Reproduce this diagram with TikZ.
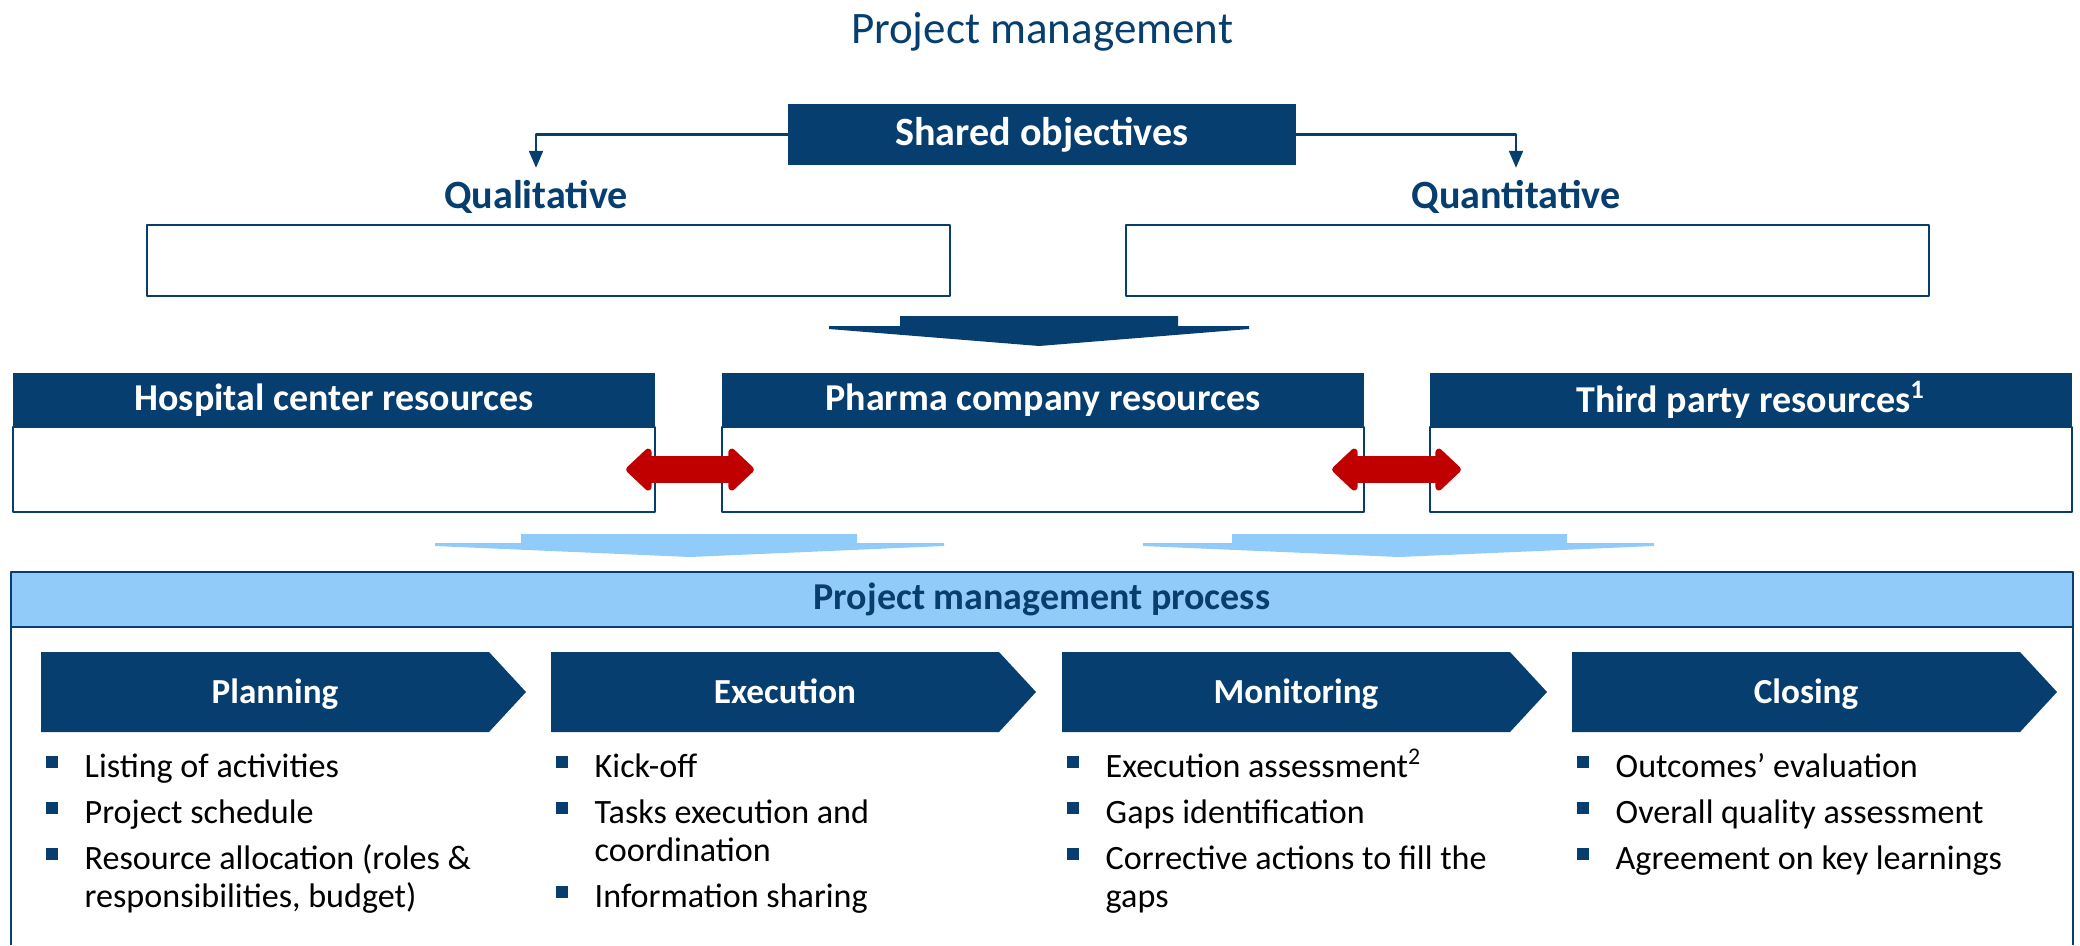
\documentclass[tikz,border=0pt]{standalone}
\usepackage{fontspec}
\setmainfont{Carlito}
\usetikzlibrary{arrows.meta,positioning}
\definecolor{pmDark}{HTML}{053E6F}
\definecolor{pmLight}{HTML}{90CBF9}
\definecolor{pmRed}{HTML}{C00000}
\newcommand{\toplines}[1]{\begin{tabular}[t]{@{}l@{}}#1\end{tabular}}
\tikzset{
  darkbox/.style={fill=pmDark, text=white, font=\fontsize{11.4}{13}\selectfont\bfseries, inner sep=0pt, outer sep=0pt},
  whitebox/.style={draw=pmDark, line width=0.6pt, fill=white, inner sep=0pt, outer sep=0pt},
  reshead/.style={darkbox, font=\fontsize{10.8}{12}\selectfont\bfseries, minimum width=6.42cm, minimum height=0.54cm},
  resbody/.style={whitebox, minimum width=6.42cm, minimum height=0.85cm},
  objlabel/.style={text=pmDark, font=\fontsize{11.4}{13}\selectfont\bfseries, inner sep=0pt, outer sep=0pt},
  objarrow/.style={pmDark, line width=0.6pt, -{Triangle[length=0.17cm, width=0.14cm]}},
  linkarrow/.style={pmRed, line width=0.27cm, {Triangle[round, length=0.27cm, width=0.49cm]}-{Triangle[round, length=0.27cm, width=0.49cm]}},
  stepfill/.style={fill=pmDark},
  steplabel/.style={text=white, font=\fontsize{10}{12}\selectfont\bfseries, inner sep=0pt},
  itemtext/.style={font=\fontsize{9.7}{10.9}\selectfont, inner sep=0pt, anchor=base west},
  itembullet/.style={fill=pmDark, minimum size=0.12cm, inner sep=0pt},
}

\begin{document}
\begin{tikzpicture}[x=0.01cm, y=-0.01cm, line join=round]
  \useasboundingbox (0,0) rectangle (2080,945);

  % Title
  \node[text=pmDark, font=\fontsize{12.8}{15}\selectfont, anchor=base] (title) at (1042,43) {Project management};

  % Shared objectives
  \node[darkbox, minimum width=5.08cm, minimum height=0.61cm] (shared) at (1042,134.5) {Shared objectives};
  \node[objlabel, anchor=base] (qual) at (536,208) {Qualitative};
  \node[objlabel, anchor=base] (quant) at (1516,208) {Quantitative};
  \draw[objarrow, shorten >=0.12cm] (shared.west) -| (qual.north);
  \draw[objarrow, shorten >=0.12cm] (shared.east) -| (quant.north);

  \node[whitebox, minimum width=8.03cm, minimum height=0.71cm] (qualbox) at (548.5,260.5) {};
  \node[whitebox, minimum width=8.03cm, minimum height=0.71cm] (quantbox) at (1527.5,260.5) {};

  % Big arrow down
  \fill[pmDark] (900,316) -- (1178,316) -- (1178,326) -- (1249,326) -- (1249,329)
    -- (1039,346) -- (829,329) -- (829,326) -- (900,326) -- cycle;

  % Resources
  \node[reshead] (hosphead) at (334,400) {Hospital center resources};
  \node[resbody, below=0pt of hosphead] (hospbody) {};
  \node[reshead] (pharmahead) at (1043,400) {Pharma company resources};
  \node[resbody, below=0pt of pharmahead] (pharmabody) {};
  \node[reshead] (thirdhead) at (1751,400) {Third party resources\textsuperscript{1}};
  \node[resbody, below=0pt of thirdhead] (thirdbody) {};

  \draw[linkarrow, shorten <=-0.29cm, shorten >=-0.32cm] (hospbody.east) -- (pharmabody.west);
  \draw[linkarrow, shorten <=-0.32cm, shorten >=-0.31cm] (pharmabody.east) -- (thirdbody.west);

  % Light arrows
  \fill[pmLight] (521,534) -- (857,534) -- (857,543) -- (944,543) -- (944,546)
    -- (690,557) -- (435,546) -- (435,543) -- (521,543) -- cycle;
  \fill[pmLight] (1232,534) -- (1567,534) -- (1567,543) -- (1654,543) -- (1654,546)
    -- (1399,557) -- (1143,546) -- (1143,543) -- (1232,543) -- cycle;

  % Process box
  \node[whitebox, fill=pmLight, text=pmDark, font=\fontsize{10.8}{12}\selectfont\bfseries,
        minimum width=20.6cm, minimum height=0.55cm] (prochead) at (1042,599.5) {Project management process};
  \draw[pmDark, line width=0.6pt] (prochead.south west) -- ++(0,318);
  \draw[pmDark, line width=0.6pt] (prochead.south east) -- ++(0,318);

  % Steps
  \foreach \x/\n/\lbl in {41/plan/Planning, 551/exec/Execution, 1062/moni/Monitoring, 1572/clos/Closing} {
    \fill[stepfill] (\x,652) -- ++(448,0) -- ++(37,40) -- ++(-37,40) -- ++(-448,0) -- cycle;
    \node[steplabel, anchor=base] (\n) at (\x+234,703) {\lbl};
  }

  % Bullet items
  \foreach \x/\y/\t in {41/777/{Listing of activities}, 41/823/{Project schedule},
                        41/869/{Resource allocation (roles \&\\responsibilities, budget)},
                        551/777/{Kick-off}, 551/823/{Tasks execution and\\coordination},
                        551/907/{Information sharing},
                        1062/777/{Execution assessment\textsuperscript{2}}, 1062/823/{Gaps identification},
                        1062/869/{Corrective actions to fill the\\gaps},
                        1572/777/{Outcomes’ evaluation}, 1572/823/{Overall quality assessment},
                        1572/869/{Agreement on key learnings}} {
    \node[itembullet] (bul-\x-\y) at (\x+11,\y-15) {};
    \node[itemtext] (item-\x-\y) at (\x+43,\y) {\toplines{\t}};
  }
\end{tikzpicture}
\end{document}
